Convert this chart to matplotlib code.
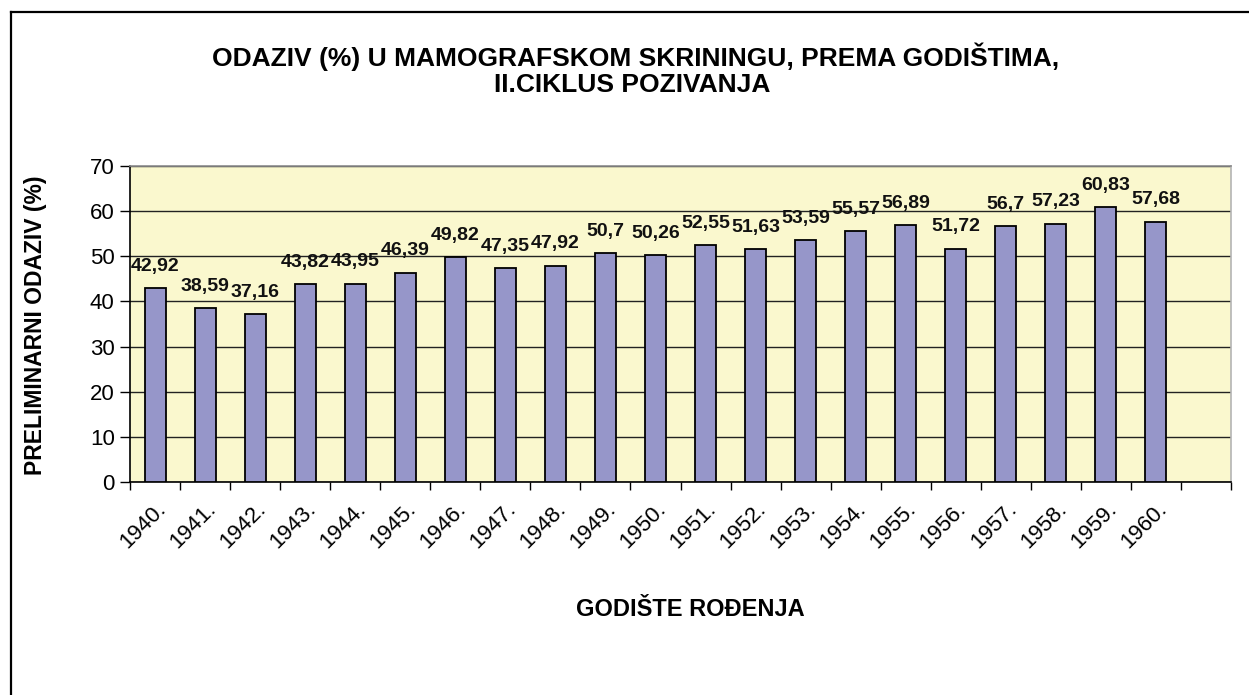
import matplotlib.pyplot as plt
from matplotlib.lines import Line2D

plt.rcParams["font.family"] = ["Liberation Sans", "DejaVu Sans"]

years = ["1940.", "1941.", "1942.", "1943.", "1944.", "1945.", "1946.",
         "1947.", "1948.", "1949.", "1950.", "1951.", "1952.", "1953.",
         "1954.", "1955.", "1956.", "1957.", "1958.", "1959.", "1960."]
odaziv = [42.92, 38.59, 37.16, 43.82, 43.95, 46.39, 49.82,
          47.35, 47.92, 50.7, 50.26, 52.55, 51.63, 53.59,
          55.57, 56.89, 51.72, 56.7, 57.23, 60.83, 57.68]
n_slots = 22  # Excel left one empty category slot after 1960.

W, H = 1249, 695
fig = plt.figure(figsize=(W / 100, H / 100), dpi=100)
fig.patch.set_facecolor("white")

# axes placed in pixel terms of the reference
left, right, top, bottom = 130, 1231, 166, 482
ax = fig.add_axes([left / W, 1 - bottom / H, (right - left) / W, (bottom - top) / H])
ax.set_facecolor("#FAF8CE")

x = list(range(len(years)))
ax.bar(x, odaziv, width=0.42, color="#9696C9", edgecolor="black",
       linewidth=1.3, zorder=3)

for xi, v in zip(x, odaziv):
    lbl = f"{v:g}".replace(".", ",")
    ax.annotate(lbl, (xi, v), xytext=(0, 9.5), textcoords="offset points",
                ha="center", va="bottom", fontsize=14, fontweight="bold",
                color="#111")

ax.set_xlim(-0.5, n_slots - 0.5)
ax.set_ylim(0, 70)
ax.set_yticks(range(0, 71, 10))
ax.yaxis.grid(True, color="#222", linewidth=1.0, zorder=1)
ax.set_axisbelow(True)

ax.set_xticks(x)
ax.set_xticklabels(years, rotation=45, ha="right", rotation_mode="anchor",
                   fontsize=16)
ax.tick_params(axis="x", which="major", length=0, pad=12)
ax.set_xticks([i - 0.5 for i in range(n_slots + 1)], minor=True)
ax.tick_params(axis="x", which="minor", length=6, width=1.0, color="black",
               direction="out")
ax.tick_params(axis="y", length=7, width=1.0, labelsize=16, pad=4)

ax.spines["left"].set_color("black")
ax.spines["bottom"].set_color("black")
ax.spines["top"].set_color("#8c8c8c")
ax.spines["right"].set_color("#b4b4b4")
for s in ax.spines.values():
    s.set_linewidth(1.2)

fig.text(636 / W, 1 - 57 / H, "ODAZIV (%) U MAMOGRAFSKOM SKRININGU, PREMA GODIŠTIMA,",
         ha="center", va="center", fontsize=19, fontweight="bold")
fig.text(632 / W, 1 - 85 / H, "II.CIKLUS POZIVANJA",
         ha="center", va="center", fontsize=19, fontweight="bold")
fig.text(690 / W, 1 - 610 / H, "GODIŠTE ROĐENJA",
         ha="center", va="center", fontsize=17, fontweight="bold")
fig.text(36 / W, 1 - 325 / H, "PRELIMINARNI ODAZIV (%)", rotation=90,
         ha="center", va="center", fontsize=16.5, fontweight="bold")

# outer chart frame (only left and top edges are visible in the crop)
fig.add_artist(Line2D([10.7 / W, 10.7 / W], [0, 1 - 11.5 / H],
                      transform=fig.transFigure, color="black", linewidth=1.6))
fig.add_artist(Line2D([10.7 / W, 1], [1 - 11.5 / H, 1 - 11.5 / H],
                      transform=fig.transFigure, color="black", linewidth=1.6))

fig.savefig("out.png", dpi=100, facecolor="white")
